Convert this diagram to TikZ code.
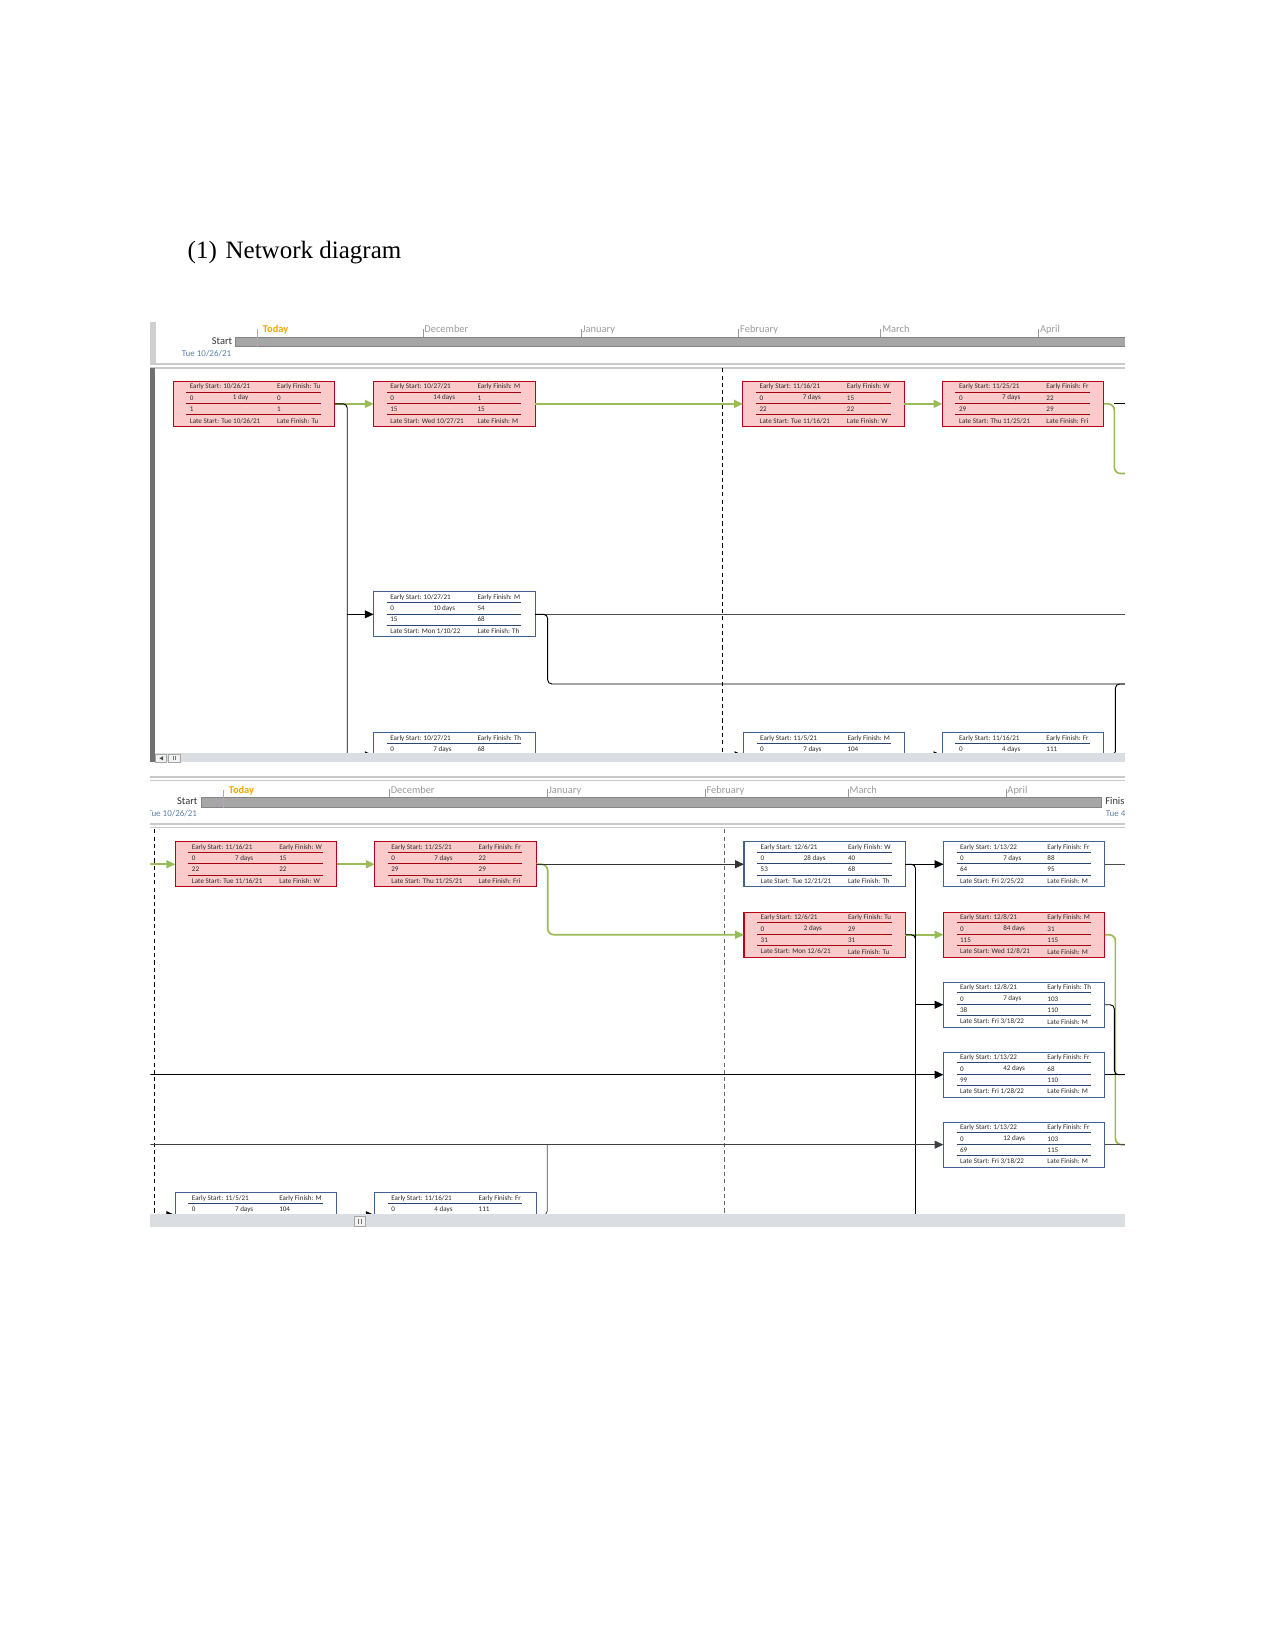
\documentclass[tikz,border=0pt]{standalone}
\usepackage{fontspec}
\setmainfont{Liberation Serif}
\newfontfamily\carl{Carlito}
\usetikzlibrary{arrows.meta}
\definecolor{critfill}{HTML}{FBCACA}
\definecolor{critdraw}{HTML}{B80018}
\definecolor{critline}{HTML}{A00010}
\definecolor{normdraw}{HTML}{41628F}
\definecolor{normline}{HTML}{2A4570}
\definecolor{grn}{HTML}{9BBB59}
\definecolor{todaycol}{HTML}{F2A900}
\definecolor{monthcol}{HTML}{9C9C9C}
\definecolor{datecol}{HTML}{5B80A8}
\definecolor{sepcol}{HTML}{CACACA}
\definecolor{scrollcol}{HTML}{DADDE2}
\definecolor{barfill}{HTML}{A6A6A6}
\definecolor{bardraw}{HTML}{858585}
\definecolor{boxtext}{HTML}{2B2B2B}
\definecolor{leftdark}{HTML}{707070}
\definecolor{leftlight}{HTML}{CFCFCF}
\tikzset{
 critbox/.style={draw=critdraw, fill=critfill, line width=0.5pt, minimum width=77.5pt, minimum height=21.5pt, inner sep=0pt, outer sep=0pt, anchor=north west},
 normbox/.style={draw=normdraw, fill=white, line width=0.5pt, minimum width=77.5pt, minimum height=21.5pt, inner sep=0pt, outer sep=0pt, anchor=north west},
 critrule/.style={draw=critline, line width=0.45pt},
 normrule/.style={draw=normline, line width=0.45pt},
 txt/.style={font=\carl\fontsize{3.4}{4}\selectfont, text=boxtext, anchor=west, inner sep=0pt},
 gline/.style={draw=grn, line width=0.8pt},
 bline/.style={draw=black, line width=0.45pt},
 kline/.style={draw=black!70, line width=0.4pt},
 garr/.style={gline, -{Triangle[length=4.2pt,width=3.8pt]}},
 barr/.style={bline, -{Triangle[length=4.2pt,width=3.8pt]}},
 mon/.style={font=\carl\fontsize{5}{6}\selectfont, text=monthcol, anchor=base west, inner sep=0pt},
 tick/.style={draw=monthcol, line width=0.35pt},
 todaylbl/.style={font=\carl\bfseries\fontsize{5}{6}\selectfont, text=todaycol, anchor=base west, inner sep=0pt},
 startlbl/.style={font=\carl\fontsize{5}{6}\selectfont, text=black!80, inner sep=0pt},
 datelbl/.style={font=\carl\fontsize{4.3}{5}\selectfont, text=datecol, inner sep=0pt},
 tbar/.style={draw=bardraw, fill=barfill, line width=0.4pt},
 sep/.style={draw=sepcol, line width=0.7pt},
 dashv/.style={draw=black, line width=0.5pt, dash pattern=on 2pt off 1.5pt},
 dashg/.style={draw=black!60, line width=0.4pt, dash pattern=on 2pt off 1.5pt},
 btn/.style={draw=black!35, fill=white!95!black, line width=0.3pt},
}
\def\parsetwo#1#2|#3|#4\relax{%
 \node[txt] (#1-a) at ([shift={(15.5,15.8)}]#1.north west) {#2};
 \node[txt] (#1-d) at ([shift={(56.5,15.8)}]#1.north west) {#3};
 \node[txt] (#1-b) at ([shift={(98.5,15.8)}]#1.north west) {#4};}
\def\parsethr#1#2|#3\relax{%
 \node[txt] (#1-c) at ([shift={(15.5,26.3)}]#1.north west) {#2};
 \node[txt] (#1-e) at ([shift={(98.5,26.3)}]#1.north west) {#3};}
% full task box: name, kind, pos, ES, EF, row2, row3, LS, LF
\newcommand\tbox[9]{%
 \node[#2box] (#1) at #3 {};
 \foreach \yy in {10,21,31.5} {\draw[#2rule] ([shift={(12.5,\yy)}]#1.north west) -- ++(128,0);}
 \node[txt] (#1-es) at ([shift={(15.5,5.2)}]#1.north west) {Early Start: #4};
 \node[txt] (#1-ef) at ([shift={(98.5,5.2)}]#1.north west) {Early Finish: #5};
 \parsetwo{#1}#6\relax
 \parsethr{#1}#7\relax
 \node[txt] (#1-ls) at ([shift={(15.5,37.3)}]#1.north west) {Late Start: #8};
 \node[txt] (#1-lf) at ([shift={(98.5,37.3)}]#1.north west) {Late Finish: #9};}
% partial task box (cut by the scroll bar): name, kind, pos, ES, EF, row2
\newcommand\pbox[6]{%
 \node[#2box] (#1) at #3 {};
 \draw[#2rule] ([shift={(12.5,10)}]#1.north west) -- ++(128,0);
 \node[txt] (#1-es) at ([shift={(15.5,5.2)}]#1.north west) {Early Start: #4};
 \node[txt] (#1-ef) at ([shift={(98.5,5.2)}]#1.north west) {Early Finish: #5};
 \parsetwo{#1}#6\relax}
\begin{document}
\begin{tikzpicture}[x=0.505pt, y=-0.505pt]
\fill[white] (0,0) rectangle (1212,1568);
\useasboundingbox (0,0) rectangle (1212,1568);

\node[font=\fontsize{12}{14}\selectfont, anchor=base west, inner sep=0pt] (title) at (178,245.5) {(1)\hspace{4.2pt}Network diagram};

% ================= TOP PANEL =================
\begin{scope}
 \clip (143,300) rectangle (1069,345);
 \draw[tbar] (224,320.5) rectangle (1080,329.5);
 \foreach \x/\m/\n in {402/December/dec,552/January/jan,702/February/feb,837/March/mar,987/April/apr}{
   \draw[tick] (\x,312.5) -- (\x,320.5);
   \node[mon] (top-\n) at (\x+1,316) {\m};}
 \draw[draw=todaycol, line width=0.4pt] (244.5,313) -- (244.5,330);
 \node[todaylbl] (top-today) at (249.5,316) {Today};
 \node[startlbl, anchor=base east] (top-start) at (221,327.3) {Start};
 \node[datelbl, anchor=base east] (top-date) at (220,339) {Tue 10/26/21};
\end{scope}
\fill[leftlight] (143,306) rectangle (148,345);
\draw[sep] (143,346) -- (1069,346);
\draw[sep] (143,349.5) -- (1069,349.5);

\begin{scope}
 \clip (143,350) rectangle (1069,716);
 \tbox{A}{crit}{(164.5,362.5)}{10/26/21}{Tu}{0|1 day|0}{1|1}{Tue 10/26/21}{Tu}
 \tbox{B}{crit}{(355,362.5)}{10/27/21}{M}{0|14 days|1}{15|15}{Wed 10/27/21}{M}
 \tbox{C}{crit}{(706,362.5)}{11/16/21}{W}{0|7 days|15}{22|22}{Tue 11/16/21}{W}
 \tbox{D}{crit}{(895.5,362.5)}{11/25/21}{Fr}{0|7 days|22}{29|29}{Thu 11/25/21}{Fri}
 \tbox{E}{norm}{(355,562.5)}{10/27/21}{M}{0|10 days|54}{15|68}{Mon 1/10/22}{Th}
 \pbox{F}{norm}{(355,696.5)}{10/27/21}{Th}{0|7 days|68}
 \pbox{G}{norm}{(706.5,696.5)}{11/5/21}{M}{0|7 days|104}
 \pbox{H}{norm}{(895.5,696.5)}{11/16/21}{Fr}{0|4 days|111}

 \coordinate (pR) at (1080,0);
 \coordinate (vA) at (330,0);
 \coordinate (vAbot) at (330,730);
 \coordinate (r650) at (1080,650);
 \coordinate (g450) at (1080,450);
 \coordinate (Gin) at ([shift={(-16,0)}]G.west);
 \coordinate (Hin) at ([shift={(-16,0)}]H.west);

 \draw[dashv] (687,350) -- (687,716);
 % critical path (green)
 \draw[garr] (A.east) -- (B.west);
 \draw[garr] (B.east) -- (C.west);
 \draw[garr] (C.east) -- (D.west);
 \draw[gline, rounded corners=3pt] (D.east) -- ++(10,0) |- (g450);
 % other links
 \draw[bline, rounded corners=2pt] (A.east) -| (vAbot);
 \draw[barr] (E.west -| vA) -- (E.west);
 \draw[barr] (F.west -| vA) -- (F.west);
 \draw[bline] ([shift={(10,0)}]D.east) -- (D.east -| pR);
 \draw[kline] (E.east) -- (E.east -| pR);
 \draw[bline, rounded corners=2pt] (E.east) -- ++(12,0) |- (r650);
 \draw[bline, rounded corners=2pt] (r650) -| ([shift={(11,0)}]H.east) -- (H.east);
 \draw[barr] (Gin) -- (G.west);
 \draw[barr] (Hin) -- (H.west);
\end{scope}
\fill[leftdark] (143,350) rectangle (147.5,724.5);
% scroll bar
\fill[scrollcol] (147.5,716) rectangle (1069,724.5);
\draw[btn] (147.8,717) rectangle (158.5,724.2);
\fill[black!70] (151.5,720.6) -- (155,718.6) -- (155,722.6) -- cycle;
\draw[btn] (160,717) rectangle (171,724.2);
\draw[black!55, line width=0.3pt] (164.3,718.8) -- (164.3,722.6) (166.7,718.8) -- (166.7,722.6);

% ================= BOTTOM PANEL =================
\draw[sep] (143,738.5) -- (1069,738.5);
\draw[sep] (143,741.5) -- (1069,741.5);
\begin{scope}
 \clip (143,742) rectangle (1069,782);
 \draw[tbar] (191,757.5) rectangle (1047,767);
 \foreach \x/\m/\n in {370/December/dec,520/January/jan,670/February/feb,806/March/mar,956/April/apr}{
   \draw[tick] (\x,750) -- (\x,757.5);
   \node[mon] (bot-\n) at (\x+1,754) {\m};}
 \draw[draw=todaycol, line width=0.4pt] (212,751) -- (212,767.5);
 \node[todaylbl] (bot-today) at (217,754) {Today};
 \node[startlbl, anchor=base east] (bot-start) at (188,764.6) {Start};
 \node[datelbl, anchor=base east] (bot-date) at (187.5,776.3) {Tue 10/26/21};
 \node[startlbl, anchor=base west] (bot-finish) at (1050,764.6) {Finis};
 \node[datelbl, anchor=base west] (bot-fdate) at (1050.5,776.3) {Tue 4};
\end{scope}
\draw[sep] (143,783) -- (1069,783);
\draw[sep] (143,786.5) -- (1069,786.5);

\begin{scope}
 \clip (143,788) rectangle (1069,1153.5);
 \tbox{I}{crit}{(166.5,800)}{11/16/21}{W}{0|7 days|15}{22|22}{Tue 11/16/21}{W}
 \tbox{J}{crit}{(356,800)}{11/25/21}{Fr}{0|7 days|22}{29|29}{Thu 11/25/21}{Fri}
 \tbox{K}{norm}{(707,800)}{12/6/21}{W}{0|28 days|40}{53|68}{Tue 12/21/21}{Th}
 \tbox{L}{norm}{(896.5,800)}{1/13/22}{Fr}{0|7 days|88}{64|95}{Fri 2/25/22}{M}
 \tbox{M}{crit}{(707,867)}{12/6/21}{Tu}{0|2 days|29}{31|31}{Mon 12/6/21}{Tu}
 \tbox{N}{crit}{(896.5,867)}{12/8/21}{M}{0|84 days|31}{115|115}{Wed 12/8/21}{M}
 \tbox{O}{norm}{(896.5,933.5)}{12/8/21}{Th}{0|7 days|103}{38|110}{Fri 3/18/22}{M}
 \tbox{P}{norm}{(896.5,1000)}{1/13/22}{Fr}{0|42 days|68}{99|110}{Fri 1/28/22}{M}
 \tbox{Q}{norm}{(896.5,1066.5)}{1/13/22}{Fr}{0|12 days|103}{69|115}{Fri 3/18/22}{M}
 \pbox{R}{norm}{(166.5,1133.5)}{11/5/21}{M}{0|7 days|104}
 \pbox{S}{norm}{(356,1133.5)}{11/16/21}{Fr}{0|4 days|111}

 \coordinate (pL) at (138,0);
 \coordinate (pR2) at (1080,0);
 \coordinate (vB) at (870,0);
 \coordinate (vBbot) at (870,1165);
 \coordinate (sV) at (520,0);
 \coordinate (Rin) at ([shift={(-16,0)}]R.west);
 \coordinate (Sin) at ([shift={(-16,0)}]S.west);

 \draw[dashv] (147,788) -- (147,1153.5);
 \draw[dashg] (688,788) -- (688,1153.5);
 % critical path (green)
 \draw[garr] (I.west -| pL) -- (I.west);
 \draw[garr] (I.east) -- (J.west);
 \draw[garr, rounded corners=3pt] (J.east) -- ++(11,0) |- (M.west);
 \draw[garr] (M.east) -- (N.west);
 \draw[gline, rounded corners=3pt] (N.east) -- ++(10,0) |- (Q.east -| pR2);
 % other links
 \draw[barr, draw=black!80] (J.east) -- (K.west);
 \draw[barr] (K.east) -- (L.west);
 \draw[bline, rounded corners=2pt] (K.east) -| (vBbot);
 \draw[bline, rounded corners=2pt] (M.east) -| (vBbot);
 \draw[barr] (O.west -| vB) -- (O.west);
 \draw[barr] (P.west -| pL) -- (P.west);
 \draw[barr, draw=black!75] (Q.west -| pL) -- (Q.west);
 \draw[kline, rounded corners=2pt] (S.east) -| (Q.west -| sV);
 \draw[barr] (Rin) -- (R.west);
 \draw[barr] (Sin) -- (S.west);
 \draw[kline] (L.east) -- (L.east -| pR2);
 \draw[bline, rounded corners=2pt] (O.east) -- ++(9,0) |- (P.east -| pR2);
 \draw[bline] (P.east) -- (P.east -| pR2);
 \draw[kline] (Q.east) -- (Q.east -| pR2);
\end{scope}
\fill[scrollcol] (143,1153.5) rectangle (1069,1166);
\draw[btn] (336.5,1155.5) rectangle (347,1165.5);
\draw[black!55, line width=0.3pt] (340.5,1158) -- (340.5,1163) (343,1158) -- (343,1163);
\end{tikzpicture}
\end{document}
